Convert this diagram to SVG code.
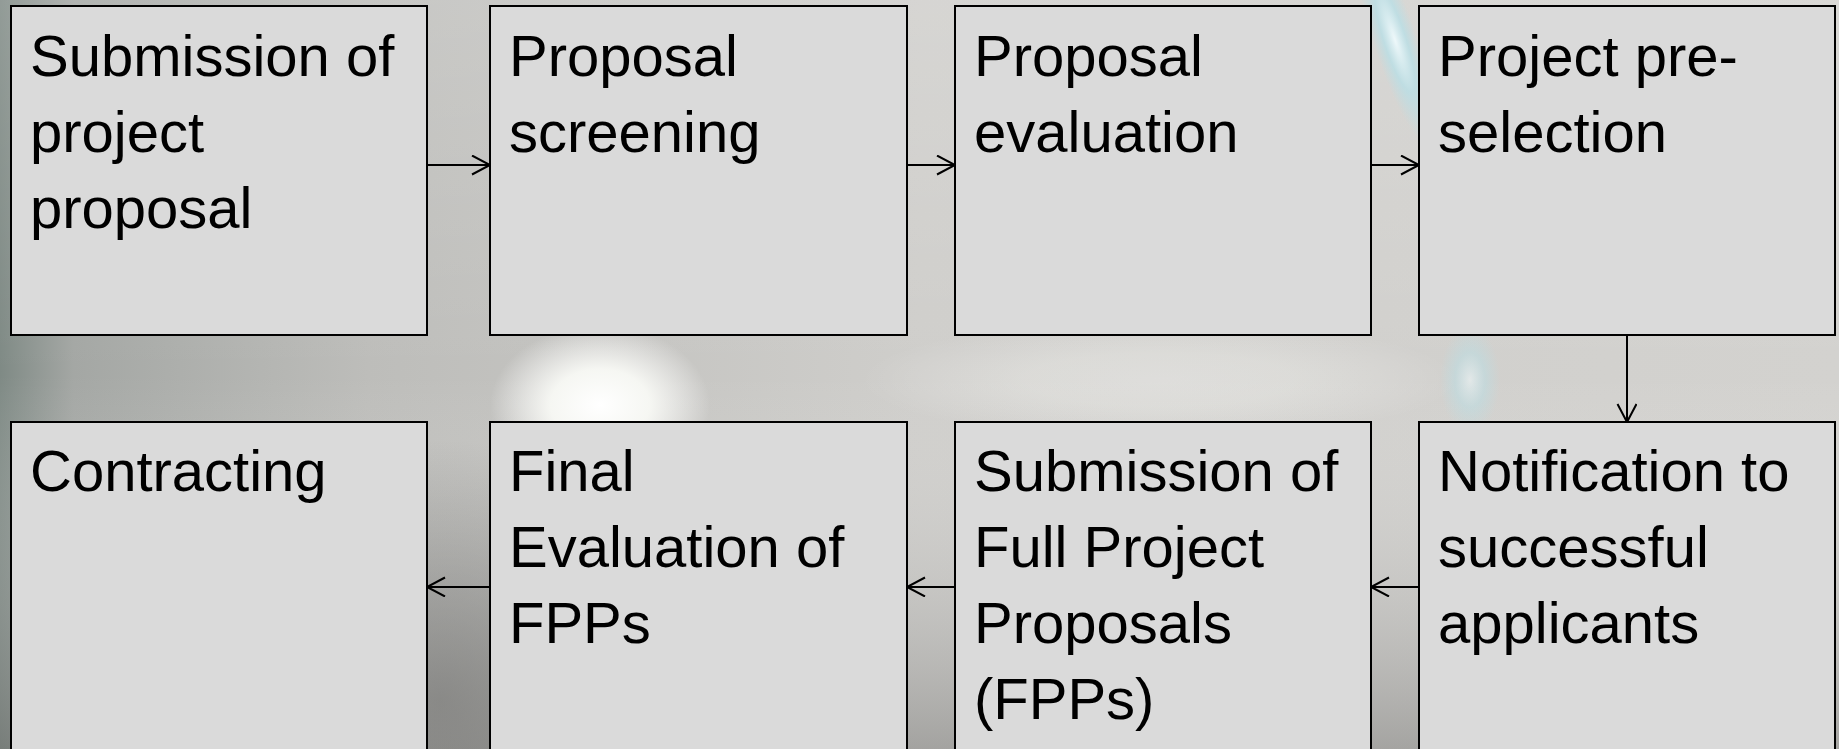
<svg xmlns="http://www.w3.org/2000/svg" width="1839" height="749" viewBox="0 0 1839 749">
<defs>
<style>
.box{fill:#dadada;stroke:#000;stroke-width:2}
.lbl{font-family:"Liberation Sans",Arial,sans-serif;font-size:58px;fill:#000}
.conn{stroke:#000;stroke-width:2;fill:none;marker-end:url(#arr)}
</style>
<marker id="arr" markerUnits="userSpaceOnUse" markerWidth="24" markerHeight="24" refX="20" refY="10" orient="auto" viewBox="0 0 24 24">
<path d="M2,0.5 L20,10 L2,19.5" fill="none" stroke="#000" stroke-width="2"/>
</marker>
<linearGradient id="bgH" x1="0" y1="0" x2="1" y2="0">
<stop offset="0" stop-color="#7f8a85"/>
<stop offset="0.04" stop-color="#a4a7a4"/>
<stop offset="0.2" stop-color="#bdbdba"/>
<stop offset="0.5" stop-color="#cfcecb"/>
<stop offset="1" stop-color="#d3d2cf"/>
</linearGradient>
<linearGradient id="bgV" x1="0" y1="0" x2="0" y2="1">
<stop offset="0" stop-color="#ffffff" stop-opacity="0.15"/>
<stop offset="0.5" stop-color="#ffffff" stop-opacity="0"/>
<stop offset="1" stop-color="#6e6e6c" stop-opacity="0.45"/>
</linearGradient>
<radialGradient id="dark" cx="0.5" cy="0.5" r="0.5">
<stop offset="0" stop-color="#7d7d7b" stop-opacity="0.7"/>
<stop offset="1" stop-color="#7d7d7b" stop-opacity="0"/>
</radialGradient>
<radialGradient id="glow" cx="0.5" cy="0.5" r="0.5">
<stop offset="0" stop-color="#ffffff" stop-opacity="1"/>
<stop offset="0.45" stop-color="#fbfcf8" stop-opacity="0.9"/>
<stop offset="1" stop-color="#ffffff" stop-opacity="0"/>
</radialGradient>
<radialGradient id="cyan" cx="0.5" cy="0.5" r="0.5">
<stop offset="0" stop-color="#eef8fa" stop-opacity="1"/>
<stop offset="0.5" stop-color="#b9dfe6" stop-opacity="0.8"/>
<stop offset="1" stop-color="#b9dfe6" stop-opacity="0"/>
</radialGradient>
</defs>
<g id="background">
<rect x="0" y="0" width="1839" height="749" fill="url(#bgH)"/>
<rect x="0" y="0" width="1839" height="749" fill="url(#bgV)"/>
<ellipse cx="440" cy="700" rx="260" ry="260" fill="url(#dark)"/>
<ellipse cx="600" cy="405" rx="110" ry="80" fill="url(#glow)"/>
<ellipse cx="1160" cy="380" rx="300" ry="60" fill="url(#glow)" opacity="0.3"/>
<ellipse cx="1395" cy="40" rx="22" ry="110" fill="url(#cyan)" transform="rotate(-18 1395 40)"/>
<ellipse cx="1470" cy="380" rx="30" ry="55" fill="url(#cyan)" opacity="0.6"/>
</g>
<g id="connectors">
<line class="conn" x1="427" y1="165" x2="490" y2="165"/>
<line class="conn" x1="907" y1="165" x2="955" y2="165"/>
<line class="conn" x1="1371" y1="165" x2="1419" y2="165"/>
<line class="conn" x1="1627" y1="335" x2="1627" y2="422"/>
<line class="conn" x1="1419" y1="587" x2="1371" y2="587"/>
<line class="conn" x1="955" y1="587" x2="907" y2="587"/>
<line class="conn" x1="490" y1="587" x2="427" y2="587"/>
</g>
<g id="n1"><rect class="box" x="11" y="6" width="416" height="329"/>
<text class="lbl"><tspan x="30" y="76">Submission of</tspan><tspan x="30" y="152">project</tspan><tspan x="30" y="228">proposal</tspan></text></g>
<g id="n2"><rect class="box" x="490" y="6" width="417" height="329"/>
<text class="lbl"><tspan x="509" y="76">Proposal</tspan><tspan x="509" y="152">screening</tspan></text></g>
<g id="n3"><rect class="box" x="955" y="6" width="416" height="329"/>
<text class="lbl"><tspan x="974" y="76">Proposal</tspan><tspan x="974" y="152">evaluation</tspan></text></g>
<g id="n4"><rect class="box" x="1419" y="6" width="416" height="329"/>
<text class="lbl"><tspan x="1438" y="76">Project pre-</tspan><tspan x="1438" y="152">selection</tspan></text></g>
<g id="n5"><rect class="box" x="1419" y="422" width="416" height="329"/>
<text class="lbl"><tspan x="1438" y="491">Notification to</tspan><tspan x="1438" y="567">successful</tspan><tspan x="1438" y="643">applicants</tspan></text></g>
<g id="n6"><rect class="box" x="955" y="422" width="416" height="329"/>
<text class="lbl"><tspan x="974" y="491">Submission of</tspan><tspan x="974" y="567">Full Project</tspan><tspan x="974" y="643">Proposals</tspan><tspan x="974" y="719">(FPPs)</tspan></text></g>
<g id="n7"><rect class="box" x="490" y="422" width="417" height="329"/>
<text class="lbl"><tspan x="509" y="491">Final</tspan><tspan x="509" y="567">Evaluation of</tspan><tspan x="509" y="643">FPPs</tspan></text></g>
<g id="n8"><rect class="box" x="11" y="422" width="416" height="329"/>
<text class="lbl"><tspan x="30" y="491">Contracting</tspan></text></g>
</svg>
